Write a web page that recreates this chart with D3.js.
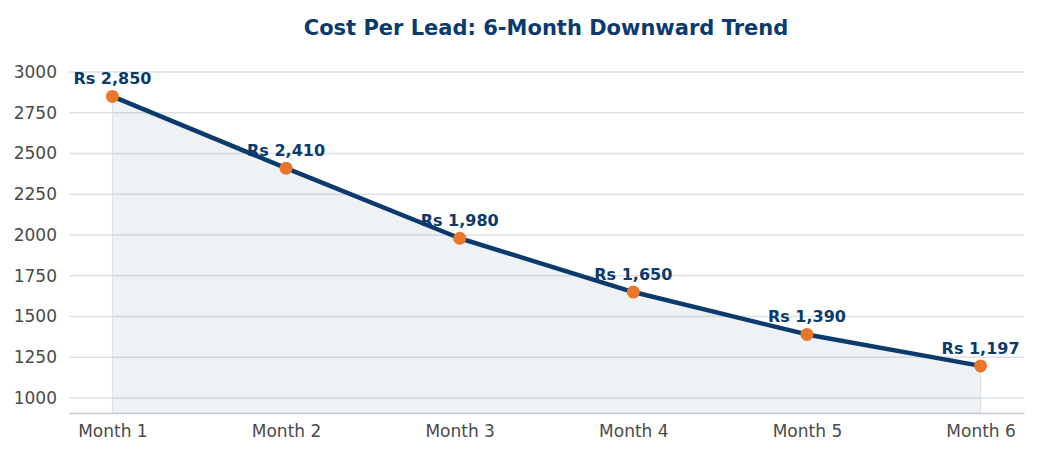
<!DOCTYPE html>
<html lang="en">
    <head>
        <meta charset="utf-8">
        <title>Cost Per Lead</title>
        <script type="text/javascript" src="https://d3js.org/d3.v7.min.js"></script>
        <style type="text/css">
            body { margin: 0; background: #fff; }
            text { font-family: "DejaVu Sans", sans-serif; }
        </style>
    </head>
    <body>
        <script type="text/javascript">

        // data
        const months = ["Month 1", "Month 2", "Month 3", "Month 4", "Month 5", "Month 6"];
        const costs = [2850, 2410, 1980, 1650, 1390, 1197];
        const costLabels = ["Rs 2,850", "Rs 2,410", "Rs 1,980", "Rs 1,650", "Rs 1,390", "Rs 1,197"];
        const yTicks = [1000, 1250, 1500, 1750, 2000, 2250, 2500, 2750, 3000];

        const width = 1042;
        const height = 458;
        const plotLeft = 69, plotRight = 1024, plotBottom = 413;

        const navy = "#0b3a6c";
        const orange = "#e8762b";

        const data = months.map((m, i) => ({month: m, cost: costs[i], label: costLabels[i]}));

        const xScale = d3.scalePoint()
                        .domain(months)
                        .range([plotLeft, plotRight])
                        .padding(0.25);

        const yScale = d3.scaleLinear()
                        .domain([1000, 3000])
                        .range([398, 72]);

        const svg = d3.select("body")
                    .append("svg")
                    .attr("width", width)
                    .attr("height", height);

        //gridlines
        svg.append("g")
            .selectAll("line")
            .data(yTicks)
            .enter()
            .append("line")
            .attr("x1", plotLeft)
            .attr("x2", plotRight)
            .attr("y1", d => yScale(d))
            .attr("y2", d => yScale(d))
            .attr("stroke", "#dde1e7")
            .attr("stroke-width", 1.5);

        //area
        const area = d3.area()
            .x(d => xScale(d.month))
            .y0(plotBottom)
            .y1(d => yScale(d.cost));

        svg.append("path")
            .datum(data)
            .attr("d", area)
            .attr("fill", "#4a6a8f")
            .attr("fill-opacity", 0.09)
            .attr("stroke", "#d8dde4")
            .attr("stroke-width", 1);

        //y axis
        const leftAxis = d3.axisLeft(yScale)
            .tickValues(yTicks)
            .tickFormat(d3.format("d"))
            .tickSize(0)
            .tickPadding(12);

        const yg = svg.append("g")
            .attr("transform", "translate(" + plotLeft + ",0)")
            .call(leftAxis);
        yg.select(".domain").remove();
        yg.selectAll("text")
            .attr("font-size", "17px")
            .attr("fill", "#4a4a4a")
            .attr("font-family", "DejaVu Sans");

        //x axis
        const bottomAxis = d3.axisBottom(xScale)
            .tickSize(0)
            .tickPadding(12);

        const xg = svg.append("g")
            .attr("transform", "translate(0," + plotBottom + ")")
            .call(bottomAxis);
        xg.select(".domain")
            .attr("stroke", "#c8ccd2")
            .attr("stroke-width", 1.5);
        xg.selectAll("text")
            .attr("font-size", "17px")
            .attr("fill", "#4a4a4a")
            .attr("font-family", "DejaVu Sans");

        //line
        const line = d3.line()
            .x(d => xScale(d.month))
            .y(d => yScale(d.cost));

        svg.append("path")
            .datum(data)
            .attr("d", line)
            .attr("fill", "none")
            .attr("stroke", navy)
            .attr("stroke-width", 4.5)
            .attr("stroke-linejoin", "round");

        //points
        svg.selectAll("circle.pt")
            .data(data)
            .enter()
            .append("circle")
            .attr("class", "pt")
            .attr("cx", d => xScale(d.month))
            .attr("cy", d => yScale(d.cost))
            .attr("r", 6.5)
            .attr("fill", orange);

        //labels
        svg.selectAll("text.lbl")
            .data(data)
            .enter()
            .append("text")
            .attr("class", "lbl")
            .text(d => d.label)
            .attr("x", d => xScale(d.month))
            .attr("y", d => yScale(d.cost) - 12)
            .attr("text-anchor", "middle")
            .attr("font-size", "16px")
            .attr("font-weight", "bold")
            .attr("fill", navy);

        //title
        svg.append("text")
            .attr("x", 546)
            .attr("y", 35)
            .attr("text-anchor", "middle")
            .attr("font-size", "21px")
            .attr("font-weight", "bold")
            .attr("fill", navy)
            .text("Cost Per Lead: 6-Month Downward Trend");

        </script>
    </body>
</html>
